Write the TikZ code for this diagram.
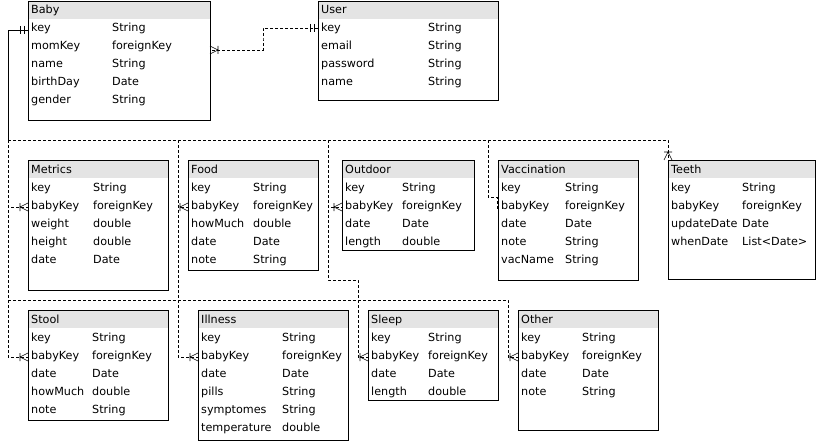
\documentclass[tikz,border=0pt]{standalone}
\usepackage{fontspec}
\setmainfont{DejaVu Sans}
\usetikzlibrary{calc}
\definecolor{headgray}{HTML}{E4E4E4}
\tikzset{table box/.style={rectangle,inner sep=0pt,outer sep=0pt,anchor=north west},
         table line/.style={draw=black,line width=0.9pt},
         field/.style={anchor=base west,inner sep=0pt,font=\fontsize{11.2}{13}\selectfont},
         link/.style={draw=black,line width=0.6pt,dash pattern=on 3pt off 2pt},
         crowfoot/.pic={\draw[solid,line width=0.6pt] (0,4) -- (8,0) -- (0,-4) (8,4) -- (8,-4);},
         onebar/.pic={\draw[solid,line width=0.6pt] (4,4) -- (4,-4) (8,4) -- (8,-4);},
}
% name, top left, width, height, type column, title, rows
\newcommand{\ertable}[7]{%
  \node[table box,minimum width=#3,minimum height=#4] (#1) at #2 {};
  \fill[headgray] (#1.north west) rectangle ([yshift=-18pt]#1.north east);
  \draw[table line] (#1.north west) rectangle (#1.south east);
  \node[field] (#1-title) at ([xshift=3pt,yshift=-13pt]#1.north west) {#6};
  \foreach \fld/\typ [count=\i] in {#7} {
    \node[field] (#1-\fld) at ([xshift=3pt,yshift={-13pt-18pt*\i}]#1.north west) {\fld};
    \node[field] (#1-\fld-type) at ([xshift=#5,yshift={-13pt-18pt*\i}]#1.north west) {\typ};
  }%
}

\begin{document}
\begin{tikzpicture}[x=1pt,y=-1pt]
\useasboundingbox (0,0) rectangle (816,441);

\ertable{baby}{(28,1)}{182pt}{119pt}{84pt}{Baby}{key/String,momKey/foreignKey,name/String,birthDay/Date,gender/String}
\ertable{user}{(318,1)}{180pt}{99pt}{110pt}{User}{key/String,email/String,password/String,name/String}
\ertable{metrics}{(28,160)}{140pt}{130pt}{65pt}{Metrics}{key/String,babyKey/foreignKey,weight/double,height/double,date/Date}
\ertable{food}{(188,160)}{130pt}{110pt}{65pt}{Food}{key/String,babyKey/foreignKey,howMuch/double,date/Date,note/String}
\ertable{outdoor}{(342,160)}{132pt}{90pt}{60pt}{Outdoor}{key/String,babyKey/foreignKey,date/Date,length/double}
\ertable{vaccination}{(498,160)}{140pt}{120pt}{67pt}{Vaccination}{key/String,babyKey/foreignKey,date/Date,note/String,vacName/String}
\ertable{teeth}{(668,160)}{147pt}{119pt}{74pt}{Teeth}{key/String,babyKey/foreignKey,updateDate/Date,whenDate/List<Date>}
\ertable{stool}{(28,310)}{140pt}{110pt}{64pt}{Stool}{key/String,babyKey/foreignKey,date/Date,howMuch/double,note/String}
\ertable{illness}{(198,310)}{150pt}{130pt}{84pt}{Illness}{key/String,babyKey/foreignKey,date/Date,pills/String,symptomes/String,temperature/double}
\ertable{sleep}{(368,310)}{130pt}{90pt}{60pt}{Sleep}{key/String,babyKey/foreignKey,date/Date,length/double}
\ertable{other}{(518,310)}{140pt}{120pt}{64pt}{Other}{key/String,babyKey/foreignKey,date/Date,note/String}

\coordinate (busL) at (8,140);
\coordinate (busF) at (178,140);
\coordinate (busO) at (328,140);
\coordinate (busV) at (488,140);
\coordinate (busB) at (8,300);
\coordinate (userJog) at (263,40);
\coordinate (sleepJog) at (358,280);
\coordinate (otherJog) at (508,300);
\coordinate (keyIn) at ([yshift=-29pt]baby.north west);
\coordinate (userIn) at ([yshift=-27pt]user.north west);
\coordinate (momIn) at ([yshift=-49pt]baby.north east);
\coordinate (vacIn) at ([xshift=-1pt,yshift=-37pt]vaccination.north west);
\coordinate (vacEnd) at ([xshift=-1pt,yshift=-50pt]vaccination.north west);
\foreach \tbl in {metrics,food,outdoor,sleep,stool,illness,other}
  \coordinate (\tbl-in) at ([yshift=-47pt]\tbl.north west);

% user - baby
\draw[link] (userIn) -| (userJog) |- (momIn);
\pic[rotate=180] at (userIn) {onebar};
\pic at (momIn) {crowfoot};

% baby - records
\draw[line width=0.6pt] (keyIn) -| (busL);
\pic[rotate=180] at (keyIn) {onebar};
\draw[link] (busL) -| (teeth.north west);
\pic[rotate=90] at (teeth.north west) {crowfoot};
\draw[link] (busL) |- (metrics-in);
\draw[link] (busF) |- (food-in);
\draw[link] (busO) |- (outdoor-in);
\draw[link] (busV) |- (vacIn) -- (vacEnd);
\draw[link] (busO) |- (sleepJog) |- (sleep-in);
\draw[link] (busL) |- (stool-in);
\draw[link] (busF) |- (illness-in);
\draw[link] (busB) -- (otherJog) |- (other-in);
\foreach \tbl in {metrics,food,outdoor,sleep,stool,illness,other}
  \pic[rotate=180] at (\tbl-in) {crowfoot};
\end{tikzpicture}
\end{document}
